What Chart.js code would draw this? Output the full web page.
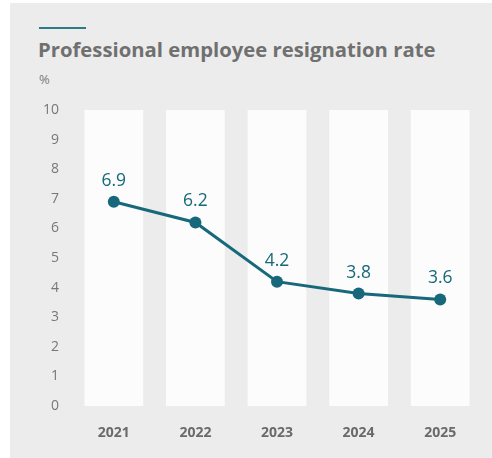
<!DOCTYPE html>
<html>
<head>
<meta charset="utf-8">
<script src="https://cdn.jsdelivr.net/npm/chart.js@4.4.1/dist/chart.umd.min.js"></script>
<style>
  html, body { margin: 0; padding: 0; background: #ffffff; }
  body { width: 492px; height: 458px; position: relative; overflow: hidden; font-family: "Open Sans", sans-serif; }
  #panel { position: absolute; left: 10px; top: 3px; width: 482px; height: 455px; background: #ececec; }
  #accent { position: absolute; left: 29px; top: 24px; width: 47px; height: 2px; background: #2c7a8a; }
  #title { position: absolute; left: 28px; top: 32px; font-size: 20.3px; font-weight: 700; color: #707070; white-space: nowrap; }
  #unit { position: absolute; left: 29px; top: 67px; font-size: 13px; color: #7a7a7a; }
  #wrap { position: absolute; left: 0px; top: 92px; width: 482px; height: 363px; }
</style>
</head>
<body>
<div id="panel">
  <div id="accent"></div>
  <div id="title">Professional employee resignation rate</div>
  <div id="unit">%</div>
  <div id="wrap"><canvas id="c" width="482" height="363"></canvas></div>
</div>
<script>
const years = ["2021", "2022", "2023", "2024", "2025"];
const resignationRate = [6.9, 6.2, 4.2, 3.8, 3.6];
const columnHeight = [10, 10, 10, 10, 10];
const yTicks = [0, 1, 2, 3, 4, 5, 6, 7, 8, 9, 10];

const teal = "#17687a";

const valueLabels = {
  id: "valueLabels",
  afterDatasetsDraw(chart) {
    const meta = chart.getDatasetMeta(0);
    const ctx = chart.ctx;
    ctx.save();
    ctx.font = "17.5px 'Open Sans', sans-serif";
    ctx.fillStyle = teal;
    ctx.textAlign = "center";
    ctx.textBaseline = "middle";
    meta.data.forEach((pt, i) => {
      ctx.fillText(resignationRate[i].toFixed(1), pt.x, pt.y - 21);
    });
    ctx.restore();
  }
};

new Chart(document.getElementById("c"), {
  data: {
    labels: years,
    datasets: [
      {
        type: "line",
        data: resignationRate,
        borderColor: teal,
        backgroundColor: teal,
        borderWidth: 3,
        pointRadius: 6,
        pointHoverRadius: 6,
        pointBackgroundColor: teal,
        pointBorderWidth: 0,
        tension: 0,
        order: 0
      },
      {
        type: "bar",
        data: columnHeight,
        backgroundColor: "#fcfcfc",
        borderWidth: 0,
        categoryPercentage: 1,
        barPercentage: 0.72,
        order: 1
      }
    ]
  },
  options: {
    responsive: false,
    animation: false,
    devicePixelRatio: 1,
    layout: { padding: { left: 0, right: 11, top: 15, bottom: 0 } },
    plugins: { legend: { display: false }, tooltip: { enabled: false } },
    scales: {
      x: {
        grid: { display: false },
        border: { display: false },
        ticks: { color: "#6a6a6a", font: { family: "'Open Sans', sans-serif", size: 14, weight: "bold" }, padding: 11 },
        afterFit(scale) { scale.height = 52; }
      },
      y: {
        min: 0,
        max: 10,
        grid: { display: false },
        border: { display: false },
        afterBuildTicks(scale) { scale.ticks = yTicks.map(v => ({ value: v })); },
        ticks: { color: "#777777", font: { family: "'Open Sans', sans-serif", size: 14 }, padding: 6 },
        afterFit(scale) { scale.width = 63; }
      }
    }
  },
  plugins: [valueLabels]
});
</script>
</body>
</html>
